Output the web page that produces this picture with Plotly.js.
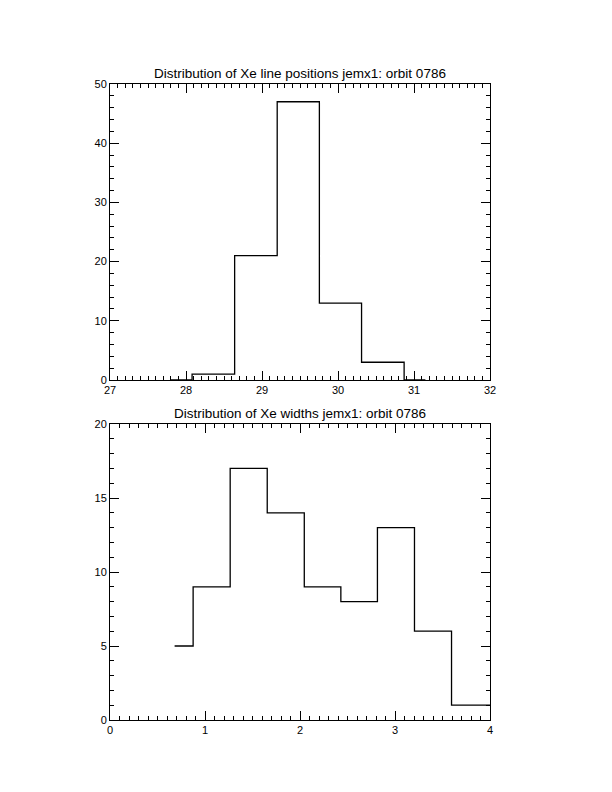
<!DOCTYPE html>
<html>
<head>
<meta charset="utf-8">
<script src="https://cdn.plot.ly/plotly-3.0.1.min.js"></script>
<style>html,body{margin:0;padding:0;background:#fff;}</style>
</head>
<body>
<div id="chart" style="width:612px;height:792px;"></div>
<script>
// Top histogram: Xe line positions (bin centers, counts)
const posCenters = [27.80, 28.36, 28.92, 29.48, 30.03, 30.59, 31.15];
const posCounts  = [0, 1, 21, 47, 13, 3, 0];
// Bottom histogram: Xe widths (bin centers, counts)
const widthCenters = [0.68, 1.07, 1.46, 1.85, 2.24, 2.62, 3.01, 3.40, 3.79, 4.18];
const widthCounts  = [5, 9, 17, 14, 9, 8, 13, 6, 1, 1];

const topTitle = 'Distribution of Xe line positions jemx1: orbit 0786';
const bottomTitle = 'Distribution of Xe widths jemx1: orbit 0786';

const FONT = {family: 'Liberation Sans, Arial, sans-serif', size: 11, color: '#000'};

function axis(range, dtick, minorDtick, domain, anchor) {
  const a = {
    range: range, autorange: false, dtick: dtick, tick0: 0,
    showline: true, linecolor: '#000', linewidth: 1, mirror: 'allticks',
    ticks: 'inside', ticklen: 9, tickwidth: 1, tickcolor: '#000',
    minor: {dtick: minorDtick, ticks: 'inside', ticklen: 4, tickwidth: 1, tickcolor: '#000', showgrid: false},
    showgrid: false, zeroline: false, tickfont: FONT, fixedrange: true
  };
  if (domain) a.domain = domain;
  if (anchor) a.anchor = anchor;
  return a;
}

const traces = [
  {x: posCenters, y: posCounts, type: 'scatter', mode: 'lines',
   line: {shape: 'hvh', color: '#000', width: 1.3}, xaxis: 'x', yaxis: 'y', hoverinfo: 'skip'},
  {x: widthCenters, y: widthCounts, type: 'scatter', mode: 'lines',
   line: {shape: 'hvh', color: '#000', width: 1.3}, xaxis: 'x2', yaxis: 'y2', hoverinfo: 'skip'}
];

const topDom = [340/636, 1];
const botDom = [0, 296/636];

const layout = {
  width: 612, height: 792,
  margin: {l: 110, r: 122, t: 84, b: 72, pad: 0},
  paper_bgcolor: '#fff', plot_bgcolor: '#fff',
  showlegend: false,
  font: FONT,
  xaxis: axis([27, 32], 1, 0.1, null, 'y'),
  yaxis: axis([0, 50], 10, 2, topDom, 'x'),
  xaxis2: axis([0, 4], 1, 0.1, null, 'y2'),
  yaxis2: axis([0, 20], 5, 1, botDom, 'x2'),
  annotations: [
    {text: topTitle, xref: 'paper', yref: 'paper', x: 0.5, y: 1, xanchor: 'center', yanchor: 'bottom',
     yshift: 1, showarrow: false, font: {family: FONT.family, size: 13.5, color: '#000'}},
    {text: bottomTitle, xref: 'paper', yref: 'paper', x: 0.5, y: botDom[1], xanchor: 'center', yanchor: 'bottom',
     yshift: 1, showarrow: false, font: {family: FONT.family, size: 13.5, color: '#000'}}
  ]
};

Plotly.newPlot('chart', traces, layout, {staticPlot: true, displayModeBar: false});
</script>
</body>
</html>
